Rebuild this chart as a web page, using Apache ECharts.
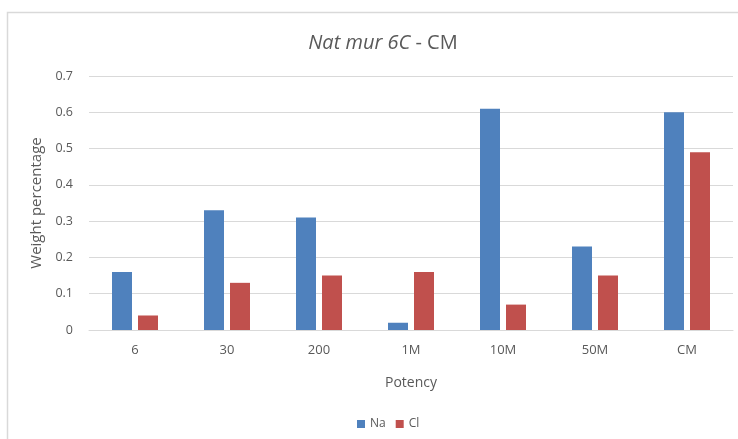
<!DOCTYPE html>
<html><head><meta charset="utf-8">
<script src="https://cdn.jsdelivr.net/npm/echarts@6/dist/echarts.min.js"></script>
<style>html,body{margin:0;padding:0;background:#fff}#c{width:738px;height:439px}</style>
</head><body><div id="c"></div>
<script>
const categories = ['6','30','200','1M','10M','50M','CM'];
const naValues = [0.16,0.33,0.31,0.02,0.61,0.23,0.60];
const clValues = [0.04,0.13,0.15,0.16,0.07,0.15,0.49];
const yTicks = [0,0.1,0.2,0.3,0.4,0.5,0.6,0.7];

const chart = echarts.init(document.getElementById('c'), null, {renderer:'canvas'});
const font = 'Open Sans, Noto Sans, sans-serif';
chart.setOption({
  animation:false,
  graphic:[{type:'rect',shape:{x:7.5,y:12.5,width:760,height:460},style:{fill:'none',stroke:'#d9d9d9',lineWidth:1.5},z:-1}],
  title:{text:'{i|Nat mur 6C} - CM',left:378,top:28,textAlign:'center',
    textStyle:{fontFamily:font,fontSize:20,fontWeight:'normal',color:'#595959',
      rich:{i:{fontFamily:font,fontSize:20,fontStyle:'italic',color:'#595959'}}}},
  legend:{data:['Na','Cl'],left:352,top:413,itemWidth:8,itemHeight:8,itemGap:10,icon:'rect',
    textStyle:{fontFamily:font,fontSize:12,color:'#595959'}},
  grid:{left:89,right:5,top:76,bottom:109,containLabel:false},
  xAxis:{type:'category',data:categories,
    axisLine:{lineStyle:{color:'#d9d9d9',width:1}},axisTick:{show:false},
    axisLabel:{fontFamily:font,fontSize:13,color:'#595959',margin:14},
    name:'Potency',nameLocation:'middle',nameGap:46,
    nameTextStyle:{fontFamily:font,fontSize:14,color:'#595959'}},
  yAxis:{type:'value',min:0,max:0.7,interval:0.1,
    axisLine:{show:false},axisTick:{show:false},
    splitLine:{lineStyle:{color:'#d9d9d9',width:1}},
    axisLabel:{fontFamily:font,fontSize:12.5,color:'#595959',margin:16,
      formatter:v=>{const t=yTicks.find(x=>Math.abs(x-v)<1e-9);return t===0?'0':String(t);}},
    name:'Weight percentage',nameLocation:'middle',nameGap:41,
    nameTextStyle:{fontFamily:font,fontSize:15,color:'#595959'}},
  series:[
    {name:'Na',type:'bar',data:naValues,barWidth:20,barGap:'30%',itemStyle:{color:'#4f81bd'}},
    {name:'Cl',type:'bar',data:clValues,barWidth:20,barGap:'30%',itemStyle:{color:'#c0504d'}}
  ]
});
</script></body></html>
